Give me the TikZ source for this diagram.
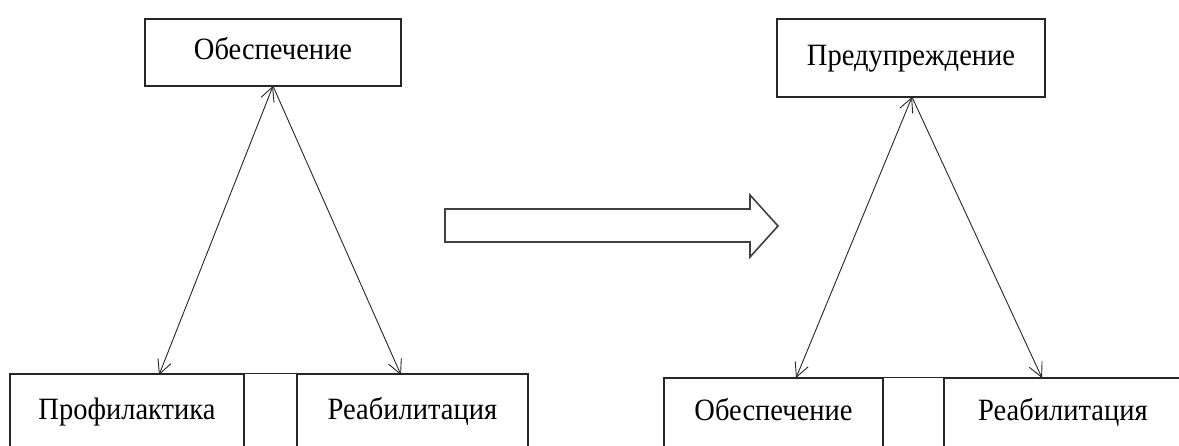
\documentclass[tikz,border=0pt]{standalone}
\usepackage{fontspec}
\setmainfont{Liberation Serif}
\newfontfamily\boxfont[FakeStretch=0.92]{Liberation Serif}
\usetikzlibrary{arrows.meta}
\begin{document}
\begin{tikzpicture}[x=1pt,y=-1pt,
  box/.style={draw=black!85,line width=1.4pt,inner sep=0pt,
    font=\boxfont\fontsize{31}{34}\selectfont,text height=21pt,text depth=6pt},
  link/.style={draw=black!85,line width=0.9pt},
  tip/.style={-{Straight Barb[length=14pt,width=14pt,line width=0.9pt]}},
  bitip/.style={{Straight Barb[length=14pt,width=14pt,line width=0.9pt]}-{Straight Barb[length=14pt,width=14pt,line width=0.9pt]}}]
\useasboundingbox (0,0) rectangle (1179,446);
\clip (0,0) rectangle (1179,446);
\fill[white] (0,0) rectangle (1179,446);
% left group
\node[box,minimum width=256pt,minimum height=67pt] (lt) at (273,52.5) {Обеспечение};
\node[box,minimum width=234pt,minimum height=76pt] (lp) at (127,412) {Профилактика};
\node[box,minimum width=231pt,minimum height=76pt] (lr) at (412.5,412) {Реабилитация};
\coordinate (la) at (273,86);
\coordinate (lb) at (159,375);
\coordinate (lc) at (401,375);
\draw[link,bitip] (lb) -- (la);
\draw[link,tip] (la) -- (lc);
\draw[link,line width=1.4pt] (lp.north east) -- (lr.north west);
% right group
\node[box,minimum width=268pt,minimum height=78pt] (rt) at (911,58) {Предупреждение};
\node[box,minimum width=219pt,minimum height=70pt] (ro) at (773.5,413) {Обеспечение};
\node[box,minimum width=238pt,minimum height=70pt] (rr) at (1063,413) {Реабилитация};
\coordinate (ra) at (912,97);
\coordinate (rb) at (796,378);
\coordinate (rc) at (1042,378);
\draw[link,bitip] (rb) -- (ra);
\draw[link,tip] (ra) -- (rc);
\draw[link,line width=1.4pt] (ro.north east) -- (rr.north west);
% block arrow
\draw[draw=black!75,line width=1.6pt,line join=miter]
  (445,209) -- (750,209) -- (750,195) -- (778,226) -- (750,257) -- (750,242) -- (445,242) -- cycle;
\end{tikzpicture}
\end{document}
